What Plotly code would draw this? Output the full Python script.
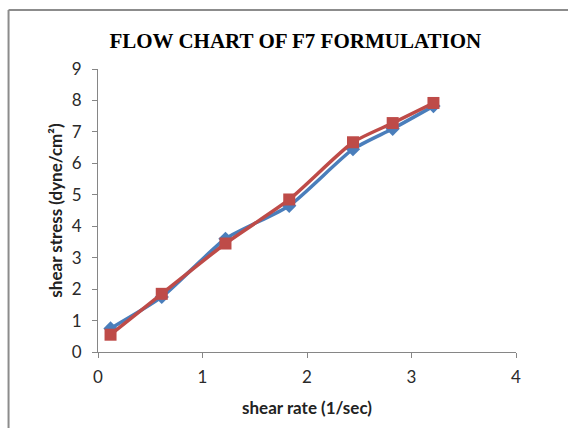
import plotly.graph_objects as go

# Shear rate (1/sec) and measured shear stress (dyne/cm²) for the F7 formulation
shear_rate = [0.12, 0.61, 1.22, 1.83, 2.44, 2.82, 3.21]
stress_run1 = [0.75, 1.75, 3.6, 4.65, 6.45, 7.1, 7.82]
stress_run2 = [0.55, 1.85, 3.45, 4.85, 6.67, 7.28, 7.92]

x_ticks = [0, 1, 2, 3, 4]
y_ticks = [0, 1, 2, 3, 4, 5, 6, 7, 8, 9]

title_text = "FLOW CHART OF F7 FORMULATION"
x_title = "shear rate (1/sec)"
y_title = "shear stress (dyne/cm²)"

BLUE = "#4A7EBB"
RED = "#BE4B48"
AXIS = "#868686"
TEXT_FONT = "Lato, 'Open Sans', sans-serif"

fig = go.Figure()
fig.add_trace(go.Scatter(
    x=shear_rate, y=stress_run1, mode="lines+markers",
    line=dict(color=BLUE, width=3.5, shape="spline", smoothing=0.6),
    marker=dict(symbol="diamond", size=11, color=BLUE),
    showlegend=False, hoverinfo="x+y",
))
fig.add_trace(go.Scatter(
    x=shear_rate, y=stress_run2, mode="lines+markers",
    line=dict(color=RED, width=3.5, shape="spline", smoothing=0.6),
    marker=dict(symbol="square", size=12, color=RED),
    showlegend=False, hoverinfo="x+y",
))

axis_common = dict(
    showgrid=False, zeroline=False, showline=True, linecolor=AXIS, linewidth=1,
    ticks="outside", ticklen=5, tickcolor=AXIS, tickwidth=1,
    tickfont=dict(family=TEXT_FONT, size=17, color="#2a2a2a"),
    mirror=False,
)

fig.update_layout(
    width=568, height=428,
    margin=dict(l=98, r=52, t=69, b=76),
    paper_bgcolor="white", plot_bgcolor="white",
    title=dict(
        text=f"<b>{title_text}</b>",
        font=dict(family="'Liberation Serif', 'Times New Roman', serif", size=21, color="black"),
        xref="paper", x=0.472, xanchor="center",
        yref="container", y=0.906, yanchor="middle",
    ),
    xaxis=dict(
        range=[0, 4], tickvals=x_ticks, ticklabelstandoff=5, **axis_common,
        title=dict(text=f"<b>{x_title}</b>", standoff=15,
                   font=dict(family=TEXT_FONT, size=17, color="#222222")),
    ),
    yaxis=dict(
        range=[0, 9], tickvals=y_ticks, ticklabelstandoff=7, **axis_common,
        title=dict(text=f"<b>{y_title}</b>", standoff=4,
                   font=dict(family=TEXT_FONT, size=17, color="#222222")),
    ),
    shapes=[
        # chart frame: top and left edges
        dict(type="line", xref="paper", yref="paper", x0=-0.214, x1=1.2,
             y0=1.2085, y1=1.2085, line=dict(color="#8c8c8c", width=2)),
        dict(type="line", xref="paper", yref="paper", x0=-0.214, x1=-0.214,
             y0=1.2085, y1=-0.3, line=dict(color="#8c8c8c", width=2)),
    ],
)

fig.write_html("out.html")
